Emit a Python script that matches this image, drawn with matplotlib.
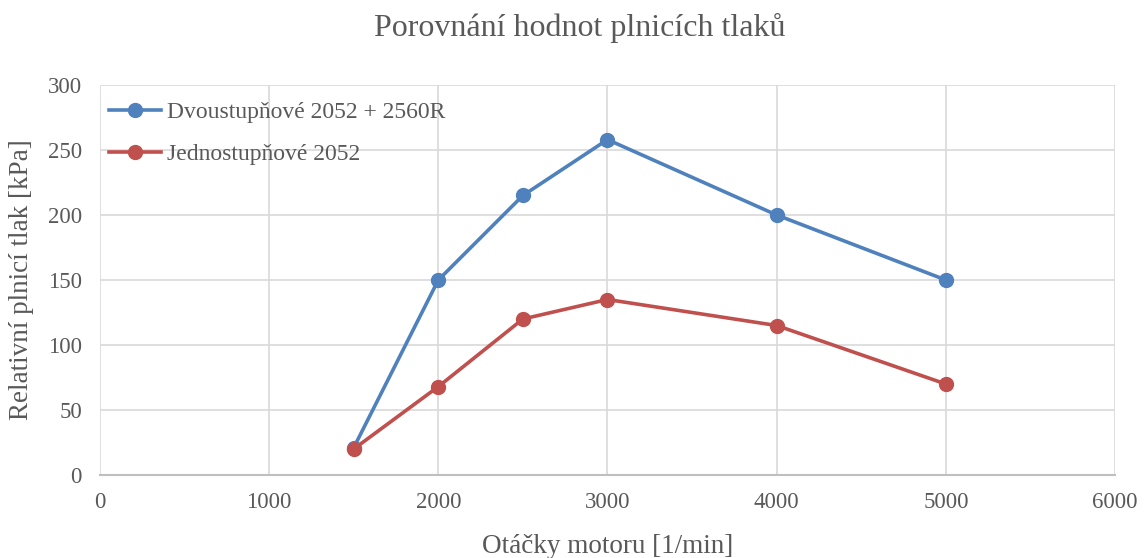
import matplotlib.pyplot as plt

# engine speed [1/min] and boost pressure [kPa]
otacky = [1500, 2000, 2500, 3000, 4000, 5000]
dvoustupnove = [21, 150, 215, 258, 200, 150]
jednostupnove = [20, 68, 120, 135, 115, 70]

x_ticks = [0, 1000, 2000, 3000, 4000, 5000, 6000]
y_ticks = [0, 50, 100, 150, 200, 250, 300]

plt.rcParams['font.family'] = ['Liberation Serif', 'DejaVu Serif']
text_color = '#595959'

fig = plt.figure(figsize=(11.45, 5.58), dpi=100)
ax = fig.add_axes([0.0873, 0.1487, 0.8865, 0.699])

ax.plot(otacky, dvoustupnove, color='#4F81BD', linewidth=2.6, marker='o',
        markersize=10, label='Dvoustupňové 2052 + 2560R', zorder=3)
ax.plot(otacky, jednostupnove, color='#C0504D', linewidth=2.6, marker='o',
        markersize=10, label='Jednostupňové 2052', zorder=3)

ax.set_xlim(0, 6000)
ax.set_ylim(0, 300)
ax.set_xticks(x_ticks)
ax.set_yticks(y_ticks)
ax.grid(True, color='#D9D9D9', linewidth=1.2)
ax.set_axisbelow(True)

for side in ['top', 'right', 'left']:
    ax.spines[side].set_visible(False)
ax.spines['bottom'].set_color('#BFBFBF')
ax.spines['bottom'].set_linewidth(1.5)
ax.tick_params(length=0, labelsize=16.5, labelcolor=text_color)
ax.tick_params(axis='x', pad=12)
ax.tick_params(axis='y', pad=13)

# title is centred over the whole chart area, not just the axes
fig.text(0.5066, 0.95, 'Porovnání hodnot plnicích tlaků', fontsize=23,
         color=text_color, ha='center', va='center')
ax.set_xlabel('Otáčky motoru [1/min]', fontsize=19.5, color=text_color, labelpad=15)
ax.set_ylabel('Relativní plnicí tlak [kPa]', fontsize=19.5, color=text_color, labelpad=10)

leg = ax.legend(loc='upper left', bbox_to_anchor=(-0.007, 1.0), frameon=False,
                fontsize=17, labelcolor=text_color,
                handlelength=2.2, handletextpad=0.25, borderaxespad=0.3,
                borderpad=0.4, labelspacing=0.87)

fig.savefig('out.png', dpi=100)
